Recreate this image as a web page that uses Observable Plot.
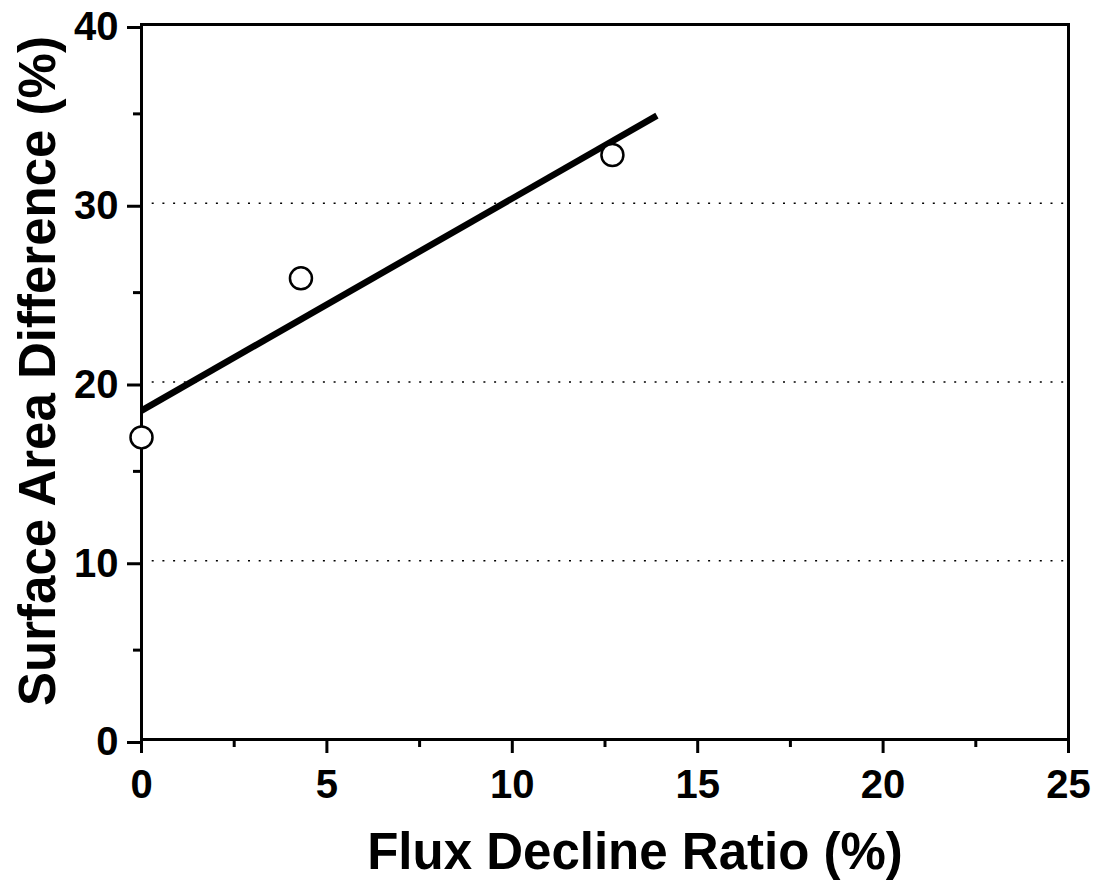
<!DOCTYPE html>
<html>
<head>
<meta charset="utf-8">
<script src="https://cdn.jsdelivr.net/npm/d3@7"></script>
<script src="https://cdn.jsdelivr.net/npm/@observablehq/plot@0.6"></script>
<style>
  html, body { margin: 0; padding: 0; background: #fff; }
  #chart svg { display: block; }
</style>
</head>
<body>
<div id="chart"></div>
<script>
// Data
const fluxDecline = [0, 4.3, 12.7];          // x (%)
const surfaceDiff = [16.9, 25.8, 32.7];      // y (%)
const fitX = [0, 13.9];                       // regression line endpoints
const fitY = [18.4, 34.9];
const xMajorTicks = [0, 5, 10, 15, 20, 25];
const xMinorTicks = [2.5, 7.5, 12.5, 17.5, 22.5];
const yMajorTicks = [0, 10, 20, 30, 40];
const yMinorTicks = [5, 15, 25, 35];
const gridValues = [10, 20, 30];
const xTitle = "Flux Decline Ratio (%)";
const yTitle = "Surface Area Difference (%)";

const points = fluxDecline.map((x, i) => ({x, y: surfaceDiff[i]}));
const fit = fitX.map((x, i) => ({x, y: fitY[i]}));

const chart = Plot.plot({
  width: 1102,
  height: 884,
  marginLeft: 141,
  marginRight: 34,
  marginTop: 24,
  marginBottom: 145,
  style: {fontFamily: "'Liberation Sans', Arial, sans-serif", fontWeight: "bold", fontSize: "40px", color: "#000", background: "#fff"},
  x: {domain: [0, 25], label: null},
  y: {domain: [0, 40], label: null},
  marks: [
    Plot.gridY(gridValues, {stroke: "#000", strokeOpacity: 1, strokeWidth: 1.5, strokeDasharray: "2,8.7"}),
    Plot.axisX(xMajorTicks, {tickSize: 14, tickPadding: 16, strokeWidth: 3, fontSize: 40, fontWeight: "bold", label: null, tickFormat: d => String(d)}),
    Plot.axisX(xMinorTicks, {tickSize: 8, strokeWidth: 3, tickFormat: () => "", label: null}),
    Plot.axisY(yMajorTicks, {tickSize: 14, tickPadding: 9, strokeWidth: 3, fontSize: 40, fontWeight: "bold", label: null, dy: 3, tickFormat: d => String(d)}),
    Plot.axisY(yMinorTicks, {tickSize: 8, strokeWidth: 3, tickFormat: () => "", label: null}),
    Plot.frame({stroke: "#000", strokeWidth: 3}),
    Plot.line(fit, {x: "x", y: "y", stroke: "#000", strokeWidth: 6.5, strokeLinecap: "butt"}),
    Plot.dot(points, {x: "x", y: "y", r: 11, fill: "#fff", stroke: "#000", strokeWidth: 2.5}),
    Plot.text([xTitle], {frameAnchor: "bottom", text: d => d, textAnchor: "middle", dx: 30, dy: 113, lineAnchor: "middle", fontSize: 51, fontWeight: "bold"}),
    Plot.text([yTitle], {frameAnchor: "left", text: d => d, textAnchor: "middle", rotate: -90, dx: -103, dy: -11, lineAnchor: "middle", fontSize: 51, fontWeight: "bold"})
  ]
});
document.getElementById("chart").appendChild(chart);
</script>
</body>
</html>
